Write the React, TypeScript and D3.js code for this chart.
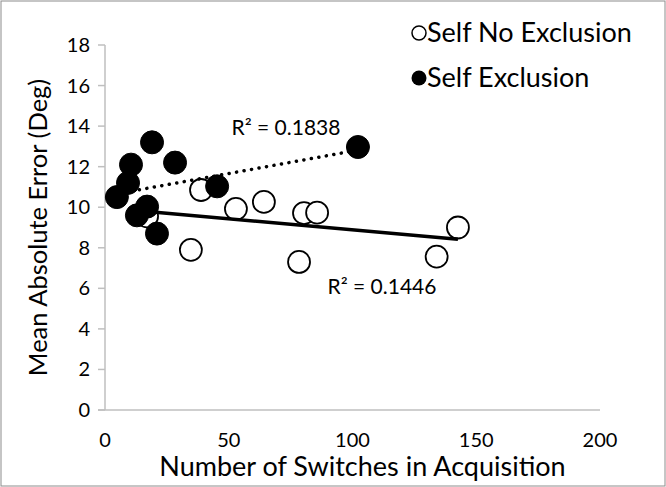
import React from "react";
import * as d3 from "d3";

const noExclX = [17, 34.7, 38.8, 52.9, 64.2, 78.4, 80.4, 85.7, 134, 142.6];
const noExclY = [9.55, 7.9, 10.85, 9.92, 10.26, 7.3, 9.71, 9.73, 7.56, 9.0];
const exclX = [19, 10.5, 28.3, 9.3, 4.8, 17, 12.9, 21, 45.3, 102.2];
const exclY = [13.2, 12.1, 12.2, 11.2, 10.5, 10.03, 9.6, 8.7, 11.03, 12.97];
const xTicks = [0, 50, 100, 150, 200];
const yTicks = [0, 2, 4, 6, 8, 10, 12, 14, 16, 18];
const r2NoExcl = "R² = 0.1446";
const r2Excl = "R² = 0.1838";
const seriesNames = ["Self No Exclusion", "Self Exclusion"];

const W = 666;
const H = 487;
const FONT = "Lato, 'Open Sans', sans-serif";

function regress(xs: number[], ys: number[]) {
  const mx = d3.mean(xs) as number;
  const my = d3.mean(ys) as number;
  let sxy = 0, sxx = 0;
  xs.forEach((x, i) => {
    sxy += (x - mx) * (ys[i] - my);
    sxx += (x - mx) * (x - mx);
  });
  const slope = sxy / sxx;
  const intercept = my - slope * mx;
  const x0 = d3.min(xs) as number;
  const x1 = d3.max(xs) as number;
  return [
    [x0, intercept + slope * x0],
    [x1, intercept + slope * x1],
  ] as [number, number][];
}

export default function App() {
  const x = d3.scaleLinear().domain([0, 200]).range([105, 600]);
  const y = d3.scaleLinear().domain([0, 18]).range([410, 45]);
  const line = d3
    .line<[number, number]>()
    .x((d) => x(d[0]))
    .y((d) => y(d[1]));
  const t1 = regress(noExclX, noExclY);
  const t2 = regress(exclX, exclY);
  const axisColor = "#BFBFBF";

  return (
    <div style={{ position: "absolute", left: 0, top: 0 }}>
      <svg width={W} height={H} style={{ display: "block", fontFamily: FONT }}>
        <rect x={0} y={0} width={W} height={H} fill="#fff" />
        <rect x={1} y={1} width={W - 2} height={H - 2} fill="none" stroke="#8c8c8c" strokeWidth={1} />
        {/* y axis */}
        <line x1={x(0)} x2={x(0)} y1={y(18)} y2={y(0)} stroke={axisColor} strokeWidth={1.5} />
        {yTicks.map((t) => (
          <g key={t}>
            <line x1={x(0) - 7} x2={x(0)} y1={y(t)} y2={y(t)} stroke={axisColor} strokeWidth={1.5} />
            <text x={x(0) - 15} y={y(t)} dy="0.35em" textAnchor="end" fontSize={20} fill="#000">
              {t}
            </text>
          </g>
        ))}
        {/* x axis */}
        <line x1={x(0) - 7} x2={x(200)} y1={y(0)} y2={y(0)} stroke={axisColor} strokeWidth={1.5} />
        {xTicks.map((t) => (
          <text key={t} x={x(t)} y={y(0) + 30} dy="0.35em" textAnchor="middle" fontSize={20} fill="#000">
            {t}
          </text>
        ))}
        <text x={(x(0) + x(200)) / 2 + 10} y={467} dy="0.35em" textAnchor="middle" fontSize={27} fill="#000">
          Number of Switches in Acquisition
        </text>
        <text
          transform={`translate(38, ${(y(0) + y(18)) / 2}) rotate(-90)`}
          dy="0.35em"
          textAnchor="middle"
          fontSize={25.5}
          fill="#000"
        >
          Mean Absolute Error (Deg)
        </text>
        {/* open circles */}
        {noExclX.map((d, i) => (
          <circle key={"o" + i} cx={x(d)} cy={y(noExclY[i])} r={11} fill="#fff" stroke="#000" strokeWidth={1.8} />
        ))}
        {/* trend lines */}
        <path d={line(t1) || ""} fill="none" stroke="#000" strokeWidth={3.5} />
        {/* filled circles */}
        {exclX.map((d, i) => (
          <circle key={"f" + i} cx={x(d)} cy={y(exclY[i])} r={11.5} fill="#000" stroke="#000" strokeWidth={1} />
        ))}
        <path d={line(t2) || ""} fill="none" stroke="#000" strokeWidth={3.5} strokeDasharray="0.1 7.5" strokeLinecap="round" />
        {/* R² labels */}
        <text x={286} y={128} dy="0.35em" textAnchor="middle" fontSize={21} fill="#000">
          {r2Excl}
        </text>
        <text x={382} y={287} dy="0.35em" textAnchor="middle" fontSize={21} fill="#000">
          {r2NoExcl}
        </text>
        {/* legend */}
        <circle cx={419} cy={33} r={7} fill="#fff" stroke="#000" strokeWidth={1.5} />
        <text x={427} y={33} dy="0.35em" fontSize={27} fill="#000">
          {seriesNames[0]}
        </text>
        <circle cx={419} cy={78} r={7.5} fill="#000" />
        <text x={427} y={78} dy="0.35em" fontSize={27} fill="#000">
          {seriesNames[1]}
        </text>
      </svg>
    </div>
  );
}
